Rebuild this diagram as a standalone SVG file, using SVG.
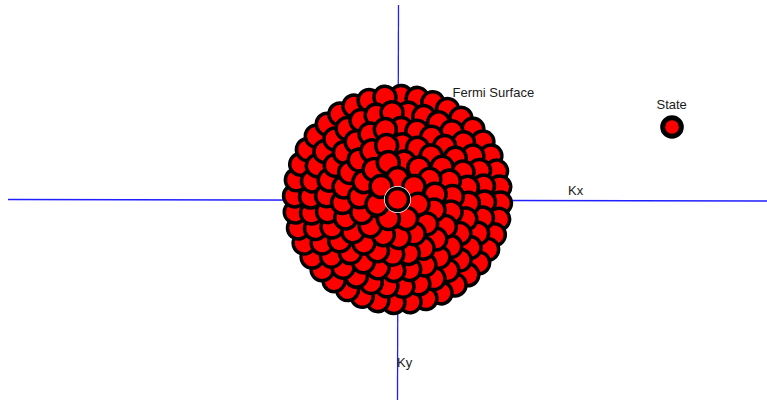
<svg xmlns="http://www.w3.org/2000/svg" width="767" height="400" viewBox="0 0 767 400">
<style>
.s{fill:#ff0000;stroke:#000;stroke-width:3.5}
.ax{stroke:#1f1fff;stroke-width:1.3;fill:none}
.lbl{font-family:"Liberation Sans",Arial,sans-serif;font-size:13px;fill:#1a1a1a}
</style>
<defs>
<circle id="r0" class="s" cx="0" cy="0" r="11"/>
<circle id="r1" class="s" cx="0" cy="-21" r="11"/>
<circle id="r2" class="s" cx="0" cy="-38" r="11"/>
<circle id="r3" class="s" cx="0" cy="-55" r="11"/>
<circle id="r4" class="s" cx="0" cy="-71" r="11"/>
<circle id="r5" class="s" cx="0" cy="-87" r="11"/>
<circle id="r6" class="s" cx="0" cy="-103" r="11"/>
</defs>
<rect width="767" height="400" fill="#fff"/>
<g id="axes">
<line class="ax" x1="8" y1="199.5" x2="767" y2="201"/>
<line class="ax" x1="398.5" y1="5" x2="397.5" y2="400"/>
</g>
<g id="fermi-sea" transform="translate(397.5,199.5)">
<g id="ring6">
<use href="#r6" transform="rotate(2)"/><use href="#r6" transform="rotate(11)"/><use href="#r6" transform="rotate(20)"/><use href="#r6" transform="rotate(29)"/><use href="#r6" transform="rotate(38)"/><use href="#r6" transform="rotate(47)"/><use href="#r6" transform="rotate(56)"/><use href="#r6" transform="rotate(65)"/><use href="#r6" transform="rotate(74)"/><use href="#r6" transform="rotate(83)"/><use href="#r6" transform="rotate(92)"/><use href="#r6" transform="rotate(101)"/><use href="#r6" transform="rotate(110)"/><use href="#r6" transform="rotate(119)"/><use href="#r6" transform="rotate(128)"/><use href="#r6" transform="rotate(137)"/><use href="#r6" transform="rotate(146)"/><use href="#r6" transform="rotate(155)"/><use href="#r6" transform="rotate(164)"/><use href="#r6" transform="rotate(173)"/><use href="#r6" transform="rotate(182)"/><use href="#r6" transform="rotate(191)"/><use href="#r6" transform="rotate(200)"/><use href="#r6" transform="rotate(209)"/><use href="#r6" transform="rotate(218)"/><use href="#r6" transform="rotate(227)"/><use href="#r6" transform="rotate(236)"/><use href="#r6" transform="rotate(245)"/><use href="#r6" transform="rotate(254)"/><use href="#r6" transform="rotate(263)"/><use href="#r6" transform="rotate(272)"/><use href="#r6" transform="rotate(281)"/><use href="#r6" transform="rotate(290)"/><use href="#r6" transform="rotate(299)"/><use href="#r6" transform="rotate(308)"/><use href="#r6" transform="rotate(317)"/><use href="#r6" transform="rotate(326)"/><use href="#r6" transform="rotate(335)"/><use href="#r6" transform="rotate(344)"/><use href="#r6" transform="rotate(353)"/>
</g>
<g id="ring5">
<use href="#r5" transform="rotate(7)"/><use href="#r5" transform="rotate(17.59)"/><use href="#r5" transform="rotate(28.18)"/><use href="#r5" transform="rotate(38.76)"/><use href="#r5" transform="rotate(49.35)"/><use href="#r5" transform="rotate(59.94)"/><use href="#r5" transform="rotate(70.53)"/><use href="#r5" transform="rotate(81.12)"/><use href="#r5" transform="rotate(91.71)"/><use href="#r5" transform="rotate(102.29)"/><use href="#r5" transform="rotate(112.88)"/><use href="#r5" transform="rotate(123.47)"/><use href="#r5" transform="rotate(134.06)"/><use href="#r5" transform="rotate(144.65)"/><use href="#r5" transform="rotate(155.24)"/><use href="#r5" transform="rotate(165.82)"/><use href="#r5" transform="rotate(176.41)"/><use href="#r5" transform="rotate(187)"/><use href="#r5" transform="rotate(197.59)"/><use href="#r5" transform="rotate(208.18)"/><use href="#r5" transform="rotate(218.76)"/><use href="#r5" transform="rotate(229.35)"/><use href="#r5" transform="rotate(239.94)"/><use href="#r5" transform="rotate(250.53)"/><use href="#r5" transform="rotate(261.12)"/><use href="#r5" transform="rotate(271.71)"/><use href="#r5" transform="rotate(282.29)"/><use href="#r5" transform="rotate(292.88)"/><use href="#r5" transform="rotate(303.47)"/><use href="#r5" transform="rotate(314.06)"/><use href="#r5" transform="rotate(324.65)"/><use href="#r5" transform="rotate(335.24)"/><use href="#r5" transform="rotate(345.82)"/><use href="#r5" transform="rotate(356.41)"/>
</g>
<g id="ring4">
<use href="#r4" transform="rotate(3)"/><use href="#r4" transform="rotate(15.86)"/><use href="#r4" transform="rotate(28.71)"/><use href="#r4" transform="rotate(41.57)"/><use href="#r4" transform="rotate(54.43)"/><use href="#r4" transform="rotate(67.29)"/><use href="#r4" transform="rotate(80.14)"/><use href="#r4" transform="rotate(93)"/><use href="#r4" transform="rotate(105.86)"/><use href="#r4" transform="rotate(118.71)"/><use href="#r4" transform="rotate(131.57)"/><use href="#r4" transform="rotate(144.43)"/><use href="#r4" transform="rotate(157.29)"/><use href="#r4" transform="rotate(170.14)"/><use href="#r4" transform="rotate(183)"/><use href="#r4" transform="rotate(195.86)"/><use href="#r4" transform="rotate(208.71)"/><use href="#r4" transform="rotate(221.57)"/><use href="#r4" transform="rotate(234.43)"/><use href="#r4" transform="rotate(247.29)"/><use href="#r4" transform="rotate(260.14)"/><use href="#r4" transform="rotate(273)"/><use href="#r4" transform="rotate(285.86)"/><use href="#r4" transform="rotate(298.71)"/><use href="#r4" transform="rotate(311.57)"/><use href="#r4" transform="rotate(324.43)"/><use href="#r4" transform="rotate(337.29)"/><use href="#r4" transform="rotate(350.14)"/>
</g>
<g id="ring3">
<use href="#r3" transform="rotate(5)"/><use href="#r3" transform="rotate(21.36)"/><use href="#r3" transform="rotate(37.73)"/><use href="#r3" transform="rotate(54.09)"/><use href="#r3" transform="rotate(70.45)"/><use href="#r3" transform="rotate(86.82)"/><use href="#r3" transform="rotate(103.18)"/><use href="#r3" transform="rotate(119.55)"/><use href="#r3" transform="rotate(135.91)"/><use href="#r3" transform="rotate(152.27)"/><use href="#r3" transform="rotate(168.64)"/><use href="#r3" transform="rotate(185)"/><use href="#r3" transform="rotate(201.36)"/><use href="#r3" transform="rotate(217.73)"/><use href="#r3" transform="rotate(234.09)"/><use href="#r3" transform="rotate(250.45)"/><use href="#r3" transform="rotate(266.82)"/><use href="#r3" transform="rotate(283.18)"/><use href="#r3" transform="rotate(299.55)"/><use href="#r3" transform="rotate(315.91)"/><use href="#r3" transform="rotate(332.27)"/><use href="#r3" transform="rotate(348.64)"/>
</g>
<g id="ring2">
<use href="#r2" transform="rotate(10)"/><use href="#r2" transform="rotate(34)"/><use href="#r2" transform="rotate(58)"/><use href="#r2" transform="rotate(82)"/><use href="#r2" transform="rotate(106)"/><use href="#r2" transform="rotate(130)"/><use href="#r2" transform="rotate(154)"/><use href="#r2" transform="rotate(178)"/><use href="#r2" transform="rotate(202)"/><use href="#r2" transform="rotate(226)"/><use href="#r2" transform="rotate(250)"/><use href="#r2" transform="rotate(274)"/><use href="#r2" transform="rotate(298)"/><use href="#r2" transform="rotate(322)"/><use href="#r2" transform="rotate(346)"/>
</g>
<g id="ring1">
<use href="#r1" transform="rotate(0)"/><use href="#r1" transform="rotate(51.43)"/><use href="#r1" transform="rotate(102.86)"/><use href="#r1" transform="rotate(154.29)"/><use href="#r1" transform="rotate(205.71)"/><use href="#r1" transform="rotate(257.14)"/><use href="#r1" transform="rotate(308.57)"/>
</g>
<g id="center-state">
<circle cx="0" cy="0" r="13.5" fill="#fff"/>
<use href="#r0"/>
</g>
</g>
<g id="state">
<circle cx="672" cy="127" r="9.3" fill="#ff0000" stroke="#000" stroke-width="5"/>
</g>
<g id="labels">
<text class="lbl" x="452.5" y="97">Fermi Surface</text>
<text class="lbl" x="656.5" y="109">State</text>
<text class="lbl" x="568" y="195">Kx</text>
<text class="lbl" x="397" y="367">Ky</text>
</g>
</svg>
